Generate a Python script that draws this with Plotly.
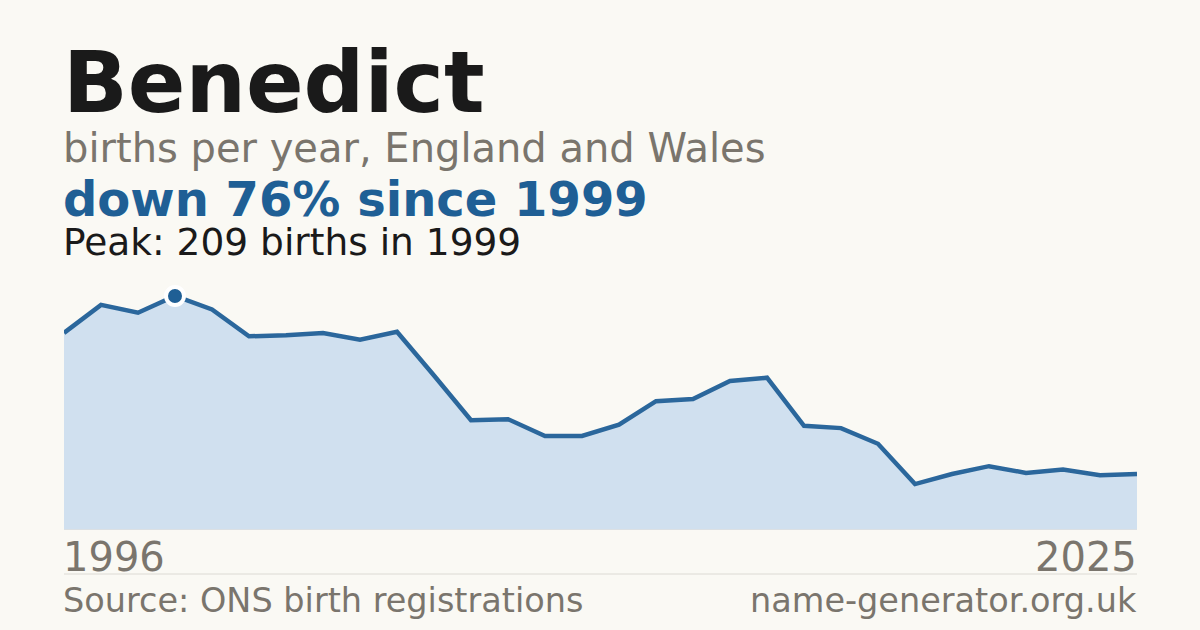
import plotly.graph_objects as go

years = list(range(1996, 2026))
births = [176, 201, 194, 209, 197, 173, 174, 176, 170, 177,
          138, 98, 99, 84, 84, 94, 115, 117, 133, 136,
          93, 91, 77, 41, 50, 57, 51, 54, 49, 50]

name = 'Benedict'
subtitle = 'births per year, England and Wales'
source = 'Source: ONS birth registrations'
site = 'name-generator.org.uk'

peak = max(births)
peak_year = years[births.index(peak)]
change = round((1 - births[-1] / peak) * 100)

BG = '#faf9f4'
DARK = '#1a1a1a'
GREY = '#7a756d'
BLUE = '#1f5f95'
FONT = 'DejaVu Sans'

# plot area in pixels: top 272, bottom 530
TOP, BOT = 272, 530
def py(pix):
    return (BOT - pix) / (BOT - TOP)

fig = go.Figure()

fig.add_trace(go.Scatter(
    x=years, y=births,
    mode='lines',
    line=dict(color='#2b679c', width=4.5),
    fill='tozeroy',
    fillcolor='#d0e0ef',
    hoverinfo='skip'
))

fig.add_trace(go.Scatter(
    x=[peak_year], y=[peak],
    mode='markers',
    marker=dict(size=18, color=BLUE, line=dict(color='white', width=4)),
    cliponaxis=False,
    hoverinfo='skip'
))

texts = [
    (name, 85, DARK, True, 82),
    (subtitle, 40, GREY, False, 148),
    (f'down {change}% since {peak_year}', 48, BLUE, True, 199),
    (f'Peak: {peak} births in {peak_year}', 37.5, DARK, False, 242),
]
for txt, size, col, bold, ypix in texts:
    fig.add_annotation(
        text=f'<b>{txt}</b>' if bold else txt,
        xref='paper', yref='paper', x=0, y=py(ypix), xshift=-3,
        xanchor='left', yanchor='middle', showarrow=False,
        font=dict(family=FONT, size=size, color=col)
    )

# first and last year labels
fig.add_annotation(text=str(years[0]), xref='x', yref='paper', x=years[0], y=py(557),
                   xanchor='left', yanchor='middle', showarrow=False, xshift=-3,
                   font=dict(family=FONT, size=40, color=GREY))
fig.add_annotation(text=str(years[-1]), xref='x', yref='paper', x=years[-1], y=py(557),
                   xanchor='right', yanchor='middle', showarrow=False, xshift=2,
                   font=dict(family=FONT, size=40, color=GREY))

# footer
fig.add_annotation(text=source, xref='paper', yref='paper', x=0, y=py(600),
                   xanchor='left', yanchor='middle', showarrow=False, xshift=-3,
                   font=dict(family=FONT, size=33.5, color=GREY))
fig.add_annotation(text=site, xref='paper', yref='paper', x=1, y=py(600),
                   xanchor='right', yanchor='middle', showarrow=False, xshift=2,
                   font=dict(family=FONT, size=33.5, color=GREY))

fig.add_shape(type='line', xref='paper', yref='paper', x0=0, x1=1,
              y0=py(574), y1=py(574), line=dict(color='#dcdad4', width=1))
fig.add_shape(type='line', xref='paper', yref='y', x0=0, x1=1,
              y0=0, y1=0, line=dict(color='#e6e1d8', width=1))

fig.update_layout(
    width=1200, height=630,
    margin=dict(l=64, r=63, t=TOP, b=630 - BOT),
    paper_bgcolor=BG, plot_bgcolor=BG,
    showlegend=False,
    xaxis=dict(range=[years[0], years[-1]], visible=False, fixedrange=True),
    yaxis=dict(range=[0, 230.4], visible=False, fixedrange=True),
)

fig.write_html('out.html', config={'displayModeBar': False},
               post_script="document.body.style.margin='0';")
